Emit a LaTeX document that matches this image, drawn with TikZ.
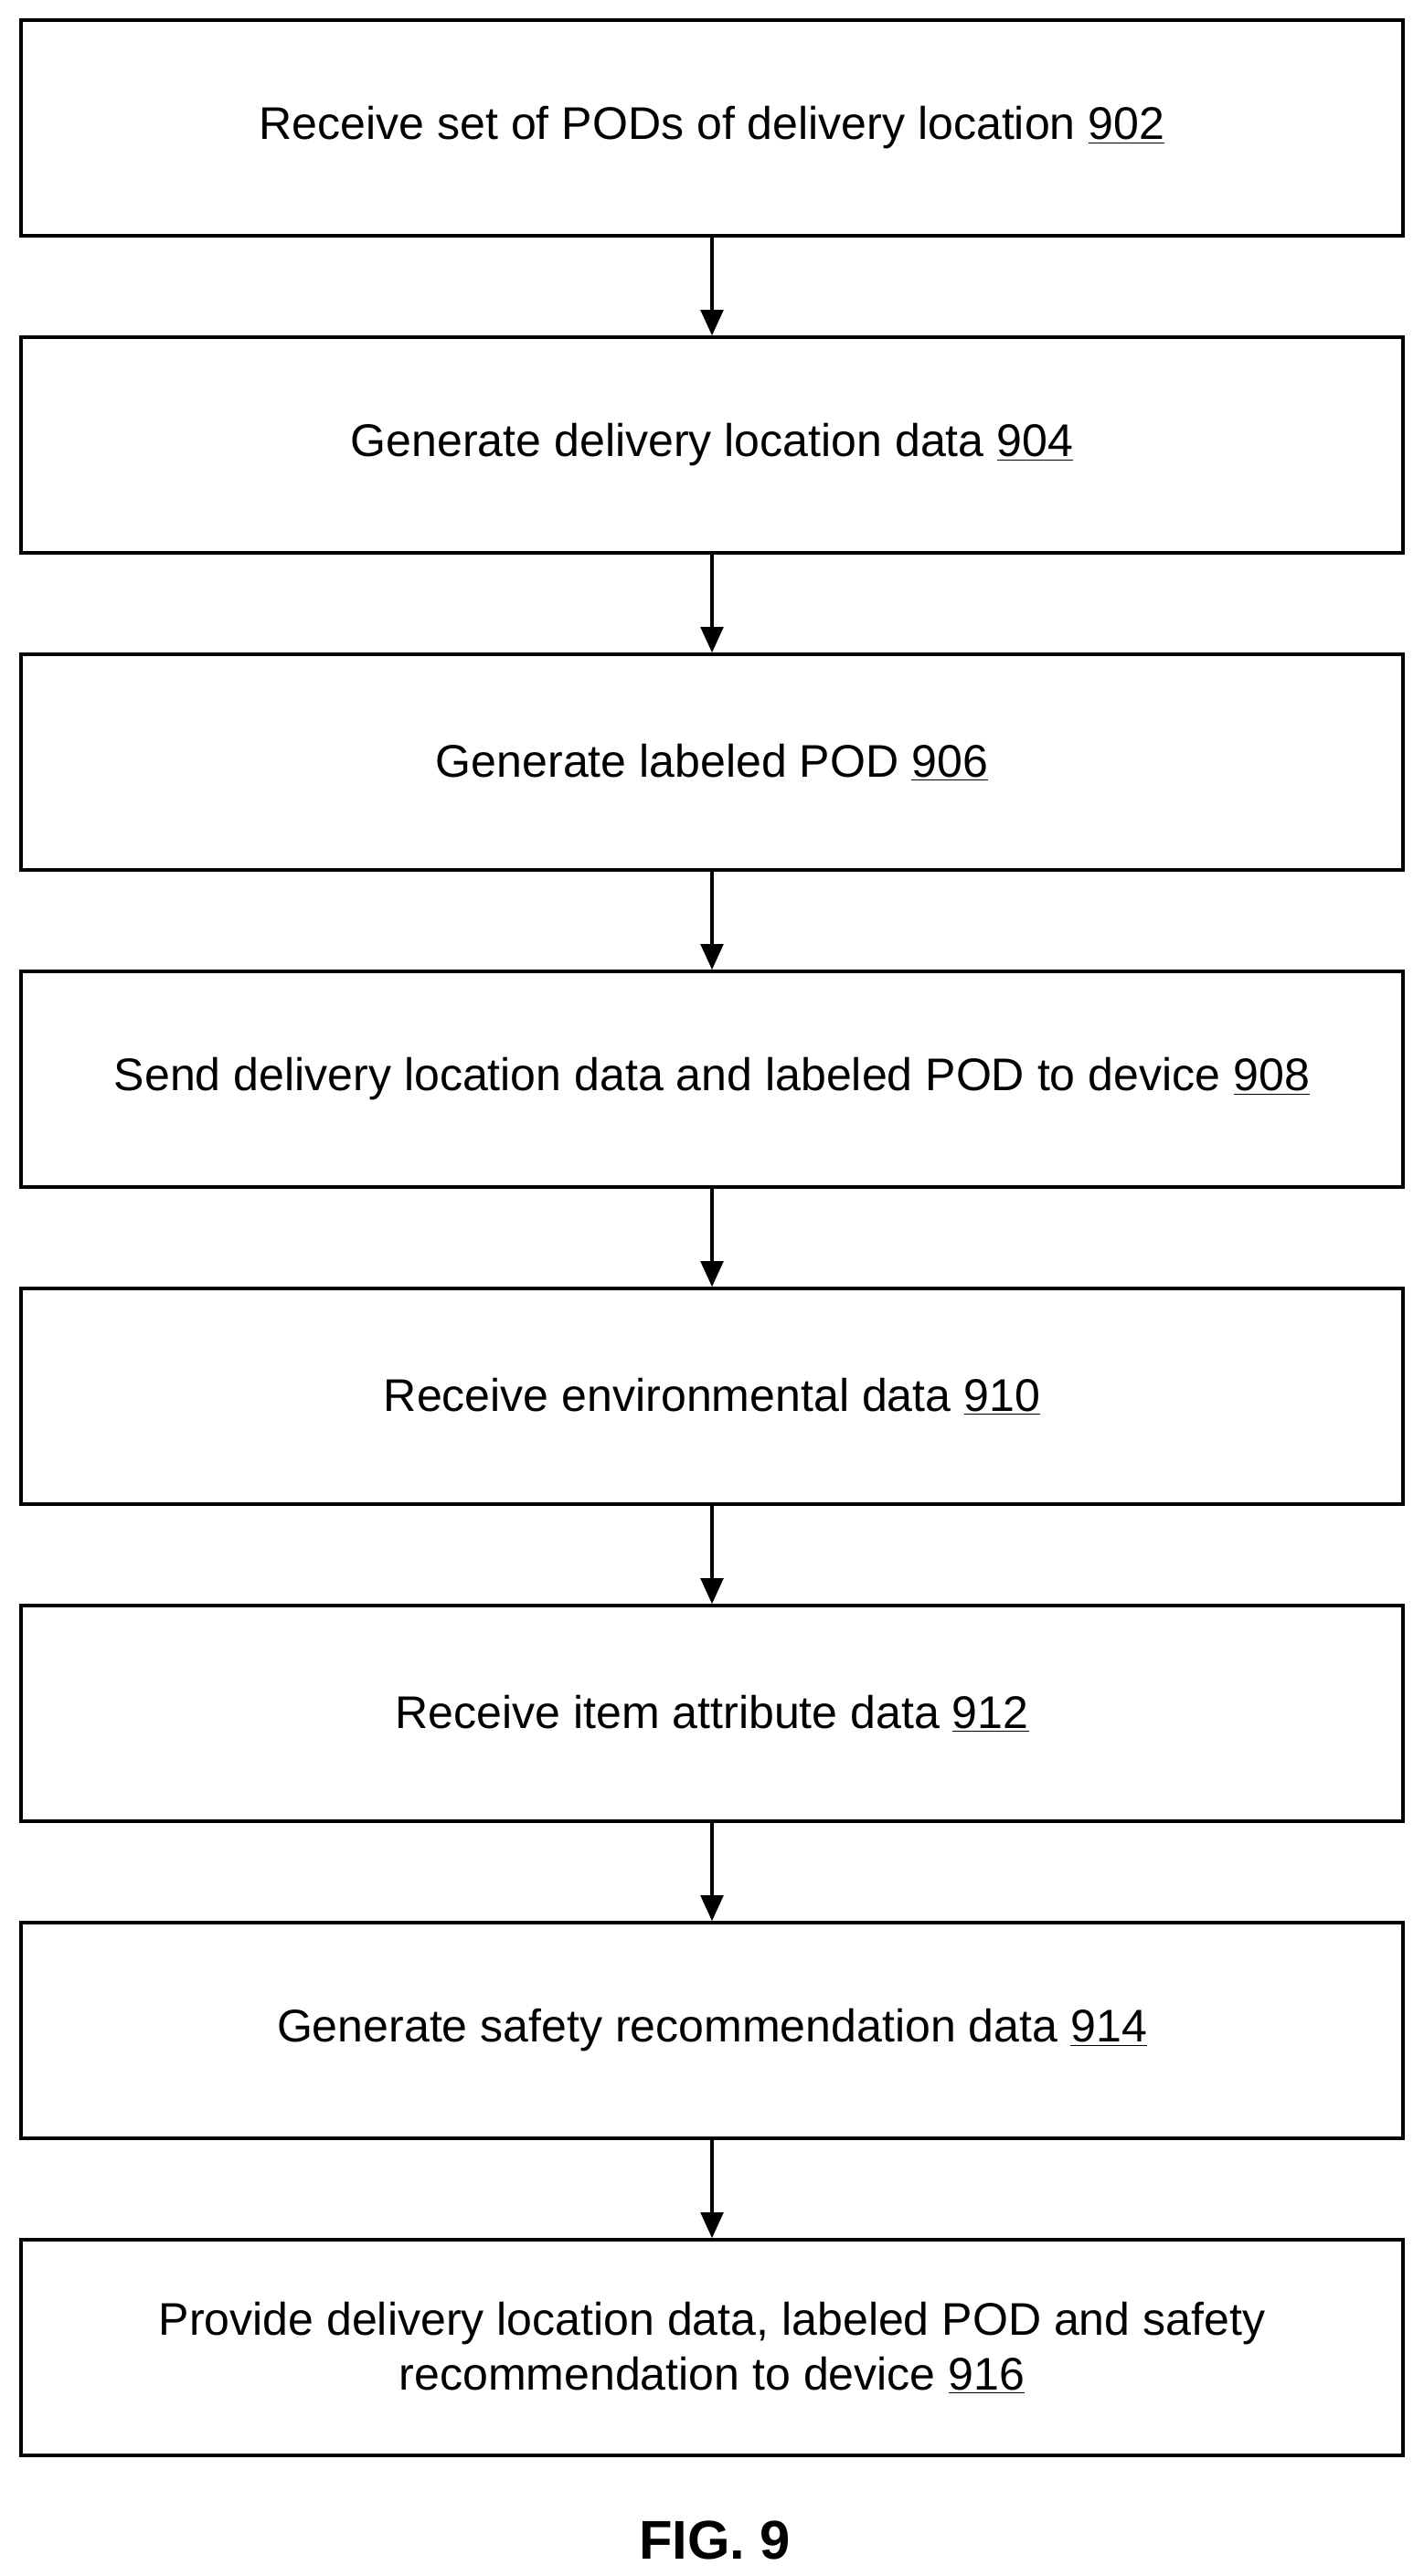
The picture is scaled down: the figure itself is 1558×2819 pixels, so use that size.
\documentclass[tikz,border=0pt]{standalone}
\usepackage{fontspec}
\setmainfont{Liberation Sans}
\usetikzlibrary{arrows.meta}
\begin{document}
\begin{tikzpicture}[x=0.02cm,y=-0.02cm,
  box/.style={draw,line width=2pt,minimum width=1512*0.02cm,minimum height=236*0.02cm,align=center,font=\fontsize{28.5}{34}\selectfont,inner sep=0pt},
  arr/.style={line width=2pt,-{Triangle[length=16pt,width=14pt]}}]
\useasboundingbox (0,0) rectangle (1558,2819);
\def\ul#1{\underline{#1}}
\node[box] (b1) at (779,140) {Receive set of PODs of delivery location \ul{902}};
\node[box] (b2) at (779,487) {Generate delivery location data \ul{904}};
\node[box] (b3) at (779,834) {Generate labeled POD \ul{906}};
\node[box] (b4) at (779,1181) {Send delivery location data and labeled POD to device \ul{908}};
\node[box] (b5) at (779,1528) {Receive environmental data \ul{910}};
\node[box] (b6) at (779,1875) {Receive item attribute data \ul{912}};
\node[box] (b7) at (779,2222) {Generate safety recommendation data \ul{914}};
\node[box] (b8) at (779,2569) {Provide delivery location data, labeled POD and safety\\recommendation to device \ul{916}};
\foreach \a/\b in {b1/b2,b2/b3,b3/b4,b4/b5,b5/b6,b6/b7,b7/b8}
  \draw[arr] (\a.south) -- (\b.north);
\node[font=\fontsize{34}{40}\selectfont\bfseries] (fig) at (782,2780) {FIG. 9};
\end{tikzpicture}
\end{document}
